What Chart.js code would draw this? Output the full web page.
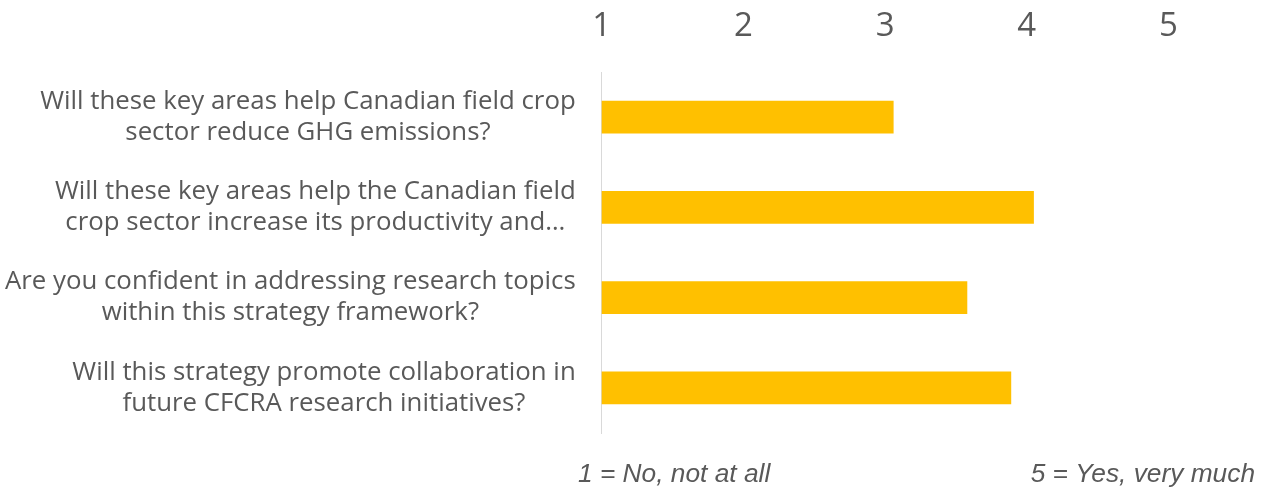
<!DOCTYPE html>
<html lang="en">
<head>
    <meta charset="UTF-8">
    <title>Strategy survey</title>
    <script src="https://cdn.jsdelivr.net/npm/chart.js"></script>
    <style>
        html, body { margin: 0; padding: 0; background: #fff; }
        .chart-container { position: relative; width: 1270px; height: 489px; }
    </style>
</head>
<body>
    <div class="chart-container">
        <canvas id="myChart"></canvas>
    </div>

    <script>
        // Perguntas (cada uma em duas linhas) e notas médias
        const questions = [
            ['Will these key areas help Canadian field crop', 'sector reduce GHG emissions?'],
            ['Will these key areas help the Canadian field', 'crop sector increase its productivity and\u2026'],
            ['Are you confident in addressing research topics', 'within this strategy framework?'],
            ['Will this strategy promote collaboration in', 'future CFCRA research initiatives?']
        ];
        const scores = [3.06, 4.05, 3.58, 3.89];
        const scaleTicks = [1, 2, 3, 4, 5];
        const scaleNotes = ['1 = No, not at all', '5 = Yes, very much'];

        const textColor = '#595959';

        // desenha os rótulos das perguntas (bloco alinhado à direita, linhas centralizadas)
        const questionLabels = {
            id: 'questionLabels',
            afterDraw(chart) {
                const ctx = chart.ctx;
                const yScale = chart.scales.y;
                const right = chart.chartArea.left - 26;
                const lineH = 31;
                ctx.save();
                ctx.font = '25.8px "Open Sans"';
                ctx.fillStyle = textColor;
                ctx.textAlign = 'center';
                ctx.textBaseline = 'middle';
                questions.forEach((lines, i) => {
                    const yc = yScale.getPixelForValue(i);
                    const w = Math.max(...lines.map(l => ctx.measureText(l).width));
                    const xc = right - w / 2;
                    lines.forEach((l, j) => {
                        ctx.fillText(l, xc, yc + (j - (lines.length - 1) / 2) * lineH);
                    });
                });
                // notas da escala embaixo
                ctx.font = 'italic 26.3px "Liberation Sans"';
                ctx.textAlign = 'left';
                ctx.fillText(scaleNotes[0], 578, 475);
                ctx.textAlign = 'right';
                ctx.fillText(scaleNotes[1], 1255, 475);
                ctx.restore();
            }
        };

        const config = {
            type: 'bar',
            data: {
                labels: questions.map(q => q.join(' ')),
                datasets: [{
                    label: 'Score',
                    data: scores,
                    backgroundColor: '#FFC000',
                    categoryPercentage: 1,
                    barPercentage: 0.365
                }]
            },
            options: {
                indexAxis: 'y',
                responsive: true,
                maintainAspectRatio: false,
                animation: false,
                layout: { padding: { left: 0, right: 101.5, top: 0, bottom: 56 } },
                plugins: {
                    legend: { display: false },
                    tooltip: { enabled: false }
                },
                scales: {
                    x: {
                        position: 'top',
                        min: 1,
                        max: 5,
                        afterBuildTicks: axis => { axis.ticks = scaleTicks.map(v => ({ value: v })); },
                        afterFit: axis => { axis.height = 72; },
                        grid: { display: false, drawTicks: false },
                        border: { display: false },
                        ticks: {
                            color: textColor,
                            font: { family: 'Open Sans', size: 33 },
                            padding: 26
                        }
                    },
                    y: {
                        afterFit: axis => { axis.width = 601.7; },
                        grid: { display: false, drawTicks: false },
                        border: { display: true, color: '#d9d9d9', width: 1 },
                        ticks: { display: false }
                    }
                }
            },
            plugins: [questionLabels]
        };

        const ctx = document.getElementById('myChart').getContext('2d');
        const myChart = new Chart(ctx, config);
    </script>
</body>
</html>
